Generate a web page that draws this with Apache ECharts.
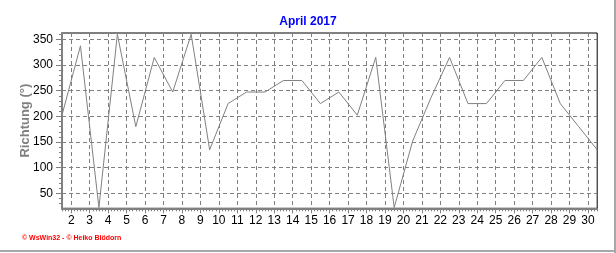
<!DOCTYPE html>
<html>
<head>
<meta charset="utf-8">
<script src="https://cdn.jsdelivr.net/npm/echarts@6/dist/echarts.min.js"></script>
<style>html,body{margin:0;padding:0;background:#fff;}#c{width:616px;height:253px;}</style>
</head>
<body>
<div id="c"></div>
<script>
// Data: daily wind direction (degrees), plotted at noon of each day
const days = [1,2,3,4,5,6,7,8,9,10,11,12,13,14,15,16,17,18,19,20,21,22,23,24,25,26,27,28,29,30];
const direction = [202.5,337.5,22.5,360,180,315,247.5,360,135,225,247.5,247.5,270,270,225,247.5,202.5,315,22.5,152,237,315,225,225,270,270,315,225,180,135];
const xTickLabels = [2,3,4,5,6,7,8,9,10,11,12,13,14,15,16,17,18,19,20,21,22,23,24,25,26,27,28,29,30];
const yTickLabels = [50,100,150,200,250,300,350];
const titleText = 'April 2017';
const yName = 'Richtung (°)';
const footer = '© WsWin32 - © Heiko Blödorn';

const seriesData = days.map((d, i) => [d + 0.5, direction[i]]);
const xMinor = [];
for (let d = 1.5; d <= 30.5 + 1e-9; d += 1/6) xMinor.push(+d.toFixed(4));
const yMinor = [];
for (let v = 30; v <= 360; v += 10) yMinor.push(v);

const FONT = 'Liberation Sans, Arial, sans-serif';
const chart = echarts.init(document.getElementById('c'), null, {renderer: 'canvas'});
chart.setOption({
  animation: false,
  backgroundColor: '#ffffff',
  title: {
    text: titleText, left: 'center', top: 11,
    textStyle: {color: '#0000ff', fontSize: 12, fontWeight: 'bold', fontFamily: FONT}
  },
  grid: {left: 62, right: 18.8, top: 33, bottom: 44.7, show: true, borderColor: '#000', borderWidth: 1, backgroundColor: '#fff'},
  xAxis: [{
    type: 'value', min: 1.5, max: 30.5,
    axisLine: {show: true, lineStyle: {color: '#808080', width: 2}},
    axisTick: {show: true, length: 5, customValues: xTickLabels, lineStyle: {color: '#808080', width: 1}},
    axisLabel: {customValues: xTickLabels, margin: 6, color: '#000', fontSize: 12, fontFamily: FONT},
    splitLine: {show: true, lineStyle: {color: '#808080', type: [4, 3], width: 1}}
  }, {
    type: 'value', min: 1.5, max: 30.5, position: 'bottom',
    axisLine: {show: false},
    axisTick: {show: true, length: 3, customValues: xMinor, lineStyle: {color: '#808080', width: 1}},
    axisLabel: {show: false},
    splitLine: {show: false}
  }],
  yAxis: [{
    type: 'value', min: 21, max: 362.5,
    name: yName, nameLocation: 'middle', nameGap: 30, nameMoveOverlap: false,
    nameTextStyle: {color: '#808080', fontSize: 13, fontWeight: 'bold', fontFamily: FONT},
    axisLine: {show: true, lineStyle: {color: '#808080', width: 2}},
    axisTick: {show: true, length: 6, customValues: yTickLabels, lineStyle: {color: '#808080', width: 1}},
    axisLabel: {customValues: yTickLabels, margin: 9, color: '#000', fontSize: 12, fontFamily: FONT},
    splitLine: {show: true, lineStyle: {color: '#808080', type: [4, 3], width: 1}}
  }, {
    type: 'value', min: 21, max: 362.5, position: 'left',
    axisLine: {show: false},
    axisTick: {show: true, length: 3, customValues: yMinor, lineStyle: {color: '#808080', width: 1}},
    axisLabel: {show: false},
    splitLine: {show: false}
  }],
  series: [{
    type: 'line', xAxisIndex: 0, yAxisIndex: 0,
    data: seriesData, showSymbol: false, symbol: 'none',
    lineStyle: {color: '#808080', width: 1},
    clip: true
  }],
  graphic: [
    {type: 'text', left: 22, top: 235, style: {text: footer, fill: '#ff0000', fontSize: 7, fontWeight: 'bold', fontFamily: FONT}},
    {type: 'rect', shape: {x: 614, y: 0, width: 2, height: 253}, style: {fill: '#a8a8a8'}},
    {type: 'rect', shape: {x: 0, y: 250, width: 616, height: 2}, style: {fill: '#a8a8a8'}}
  ]
});
</script>
</body>
</html>
